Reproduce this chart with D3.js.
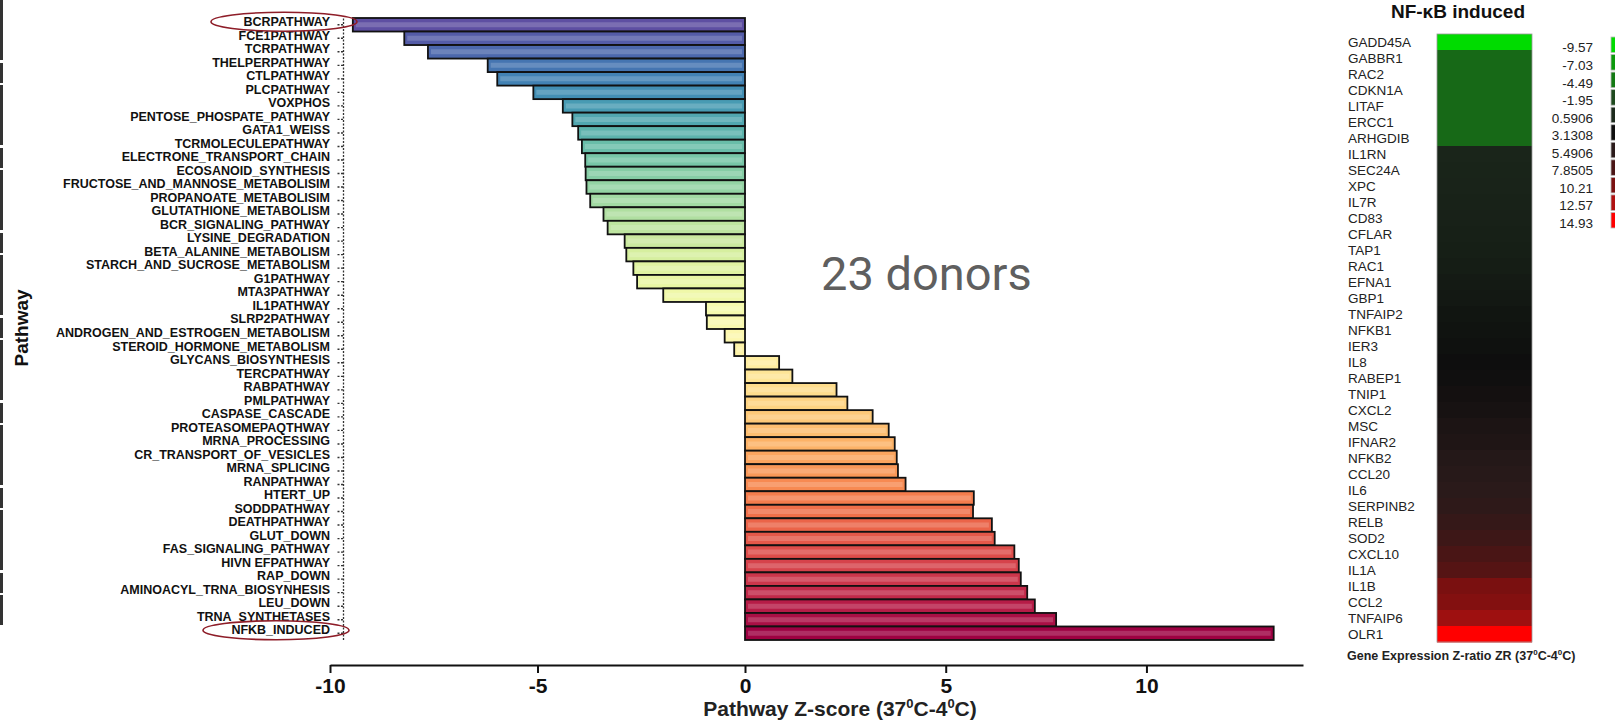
<!DOCTYPE html>
<html>
<head>
<meta charset="utf-8">
<script src="https://cdn.jsdelivr.net/npm/d3@7"></script>
<style>
  body { margin: 0; background: #fff; }
  svg { display: block; }
</style>
</head>
<body>
<div id="chart"></div>
<script>
// pathway bar chart data (top to bottom)
var pathways = [
  "BCRPATHWAY", "FCE1PATHWAY", "TCRPATHWAY", "THELPERPATHWAY", "CTLPATHWAY",
  "PLCPATHWAY", "VOXPHOS", "PENTOSE_PHOSPATE_PATHWAY", "GATA1_WEISS", "TCRMOLECULEPATHWAY",
  "ELECTRONE_TRANSPORT_CHAIN", "ECOSANOID_SYNTHESIS", "FRUCTOSE_AND_MANNOSE_METABOLISIM",
  "PROPANOATE_METABOLISIM", "GLUTATHIONE_METABOLISM", "BCR_SIGNALING_PATHWAY",
  "LYSINE_DEGRADATION", "BETA_ALANINE_METABOLISM", "STARCH_AND_SUCROSE_METABOLISM",
  "G1PATHWAY", "MTA3PATHWAY", "IL1PATHWAY", "SLRP2PATHWAY",
  "ANDROGEN_AND_ESTROGEN_METABOLISM", "STEROID_HORMONE_METABOLISM", "GLYCANS_BIOSYNTHESIS",
  "TERCPATHWAY", "RABPATHWAY", "PMLPATHWAY", "CASPASE_CASCADE", "PROTEASOMEPAQTHWAY",
  "MRNA_PROCESSING", "CR_TRANSPORT_OF_VESICLES", "MRNA_SPLICING", "RANPATHWAY",
  "HTERT_UP", "SODDPATHWAY", "DEATHPATHWAY", "GLUT_DOWN", "FAS_SIGNALING_PATHWAY",
  "HIVN EFPATHWAY", "RAP_DOWN", "AMINOACYL_TRNA_BIOSYNHESIS", "LEU_DOWN",
  "TRNA_SYNTHETASES", "NFKB_INDUCED"
];
var zScores = [
  -9.45, -8.21, -7.64, -6.20, -5.97,
  -5.10, -4.39, -4.16, -4.02, -3.93,
  -3.85, -3.84, -3.82,
  -3.73, -3.41, -3.31,
  -2.90, -2.86, -2.69,
  -2.60, -1.97, -0.94, -0.92,
  -0.49, -0.26, 0.85,
  1.18, 2.28, 2.55, 3.18, 3.58,
  3.73, 3.78, 3.81, 4.00,
  5.70, 5.68, 6.15, 6.22, 6.71,
  6.82, 6.87, 7.03, 7.22,
  7.75, 13.17
];
var xTicks = [-10, -5, 0, 5, 10];

// NF-kB induced heatmap data
var genes = [
  "GADD45A", "GABBR1", "RAC2", "CDKN1A", "LITAF", "ERCC1", "ARHGDIB", "IL1RN",
  "SEC24A", "XPC", "IL7R", "CD83", "CFLAR", "TAP1", "RAC1", "EFNA1", "GBP1",
  "TNFAIP2", "NFKB1", "IER3", "IL8", "RABEP1", "TNIP1", "CXCL2", "MSC", "IFNAR2",
  "NFKB2", "CCL20", "IL6", "SERPINB2", "RELB", "SOD2", "CXCL10", "IL1A", "IL1B",
  "CCL2", "TNFAIP6", "OLR1"
];
var geneZ = [
  -9.57, -3.6, -3.6, -3.6, -3.6, -3.6, -3.6, 1.0,
  1.1, 1.2, 1.3, 1.4, 1.5, 1.6, 1.8, 2.0, 2.2,
  2.5, 2.7, 2.9, 3.1, 3.3, 3.6, 3.9, 4.3, 4.6,
  5.0, 5.2, 5.5, 5.8, 6.3, 6.9, 7.8, 8.4, 10.2,
  10.6, 11.8, 14.93
];
var legendValues = [-9.57, -7.03, -4.49, -1.95, 0.5906, 3.1308, 5.4906, 7.8505, 10.21, 12.57, 14.93];
var legendColors = ["#00dc00", "#0c9a0c", "#137a13", "#1e4a1e", "#1c2a1c", "#0e0e0e",
                    "#2a1a1a", "#4a1515", "#7a1010", "#b01010", "#ff0000"];

var width = 1615, height = 720;

var svg = d3.select("#chart").append("svg")
  .attr("width", width)
  .attr("height", height);

/* scanned border on the left edge */
svg.append("line")
  .attr("x1", 1.5).attr("x2", 1.5)
  .attr("y1", 0).attr("y2", 625)
  .style("stroke", "#333")
  .style("stroke-width", 3)
  .style("stroke-dasharray", "60,3,20,2");

function drawBars() {
  // the scanned axis is a little wider on the negative side
  var x = d3.scaleLinear().domain([-10, 0, 13.9]).range([330, 745, 1303]);
  var y = d3.scaleBand().domain(pathways).range([18, 640]).padding(0);

  var color = function(i) { return d3.interpolateSpectral(1 - i / (pathways.length - 1)); };

  var g = svg.append("g");

  g.selectAll("rect.bar")
    .data(pathways)
    .enter().append("rect")
    .attr("class", "bar")
    .attr("x", function(d, i) { return x(Math.min(0, zScores[i])); })
    .attr("y", function(d) { return y(d); })
    .attr("width", function(d, i) { return Math.abs(x(zScores[i]) - x(0)); })
    .attr("height", y.bandwidth())
    .style("fill", function(d, i) { return color(i); })
    .style("stroke", "#111")
    .style("stroke-width", 1.8);

  // slight sheen inside each bar
  g.selectAll("line.sheen")
    .data(pathways)
    .enter().append("line")
    .attr("class", "sheen")
    .attr("x1", function(d, i) { return x(Math.min(0, zScores[i])) + 3; })
    .attr("x2", function(d, i) { return x(Math.max(0, zScores[i])) - 3; })
    .attr("y1", function(d) { return y(d) + y.bandwidth() / 2; })
    .attr("y2", function(d) { return y(d) + y.bandwidth() / 2; })
    .style("stroke", "#fff")
    .style("stroke-opacity", 0.18)
    .style("stroke-width", 5);

  // y axis: dotted line with dashed ticks
  var yAxis = g.append("g").attr("transform", "translate(343,0)")
    .call(d3.axisLeft(y).tickSize(7).tickPadding(6).tickSizeOuter(0));
  yAxis.select(".domain")
    .style("stroke", "#333")
    .style("stroke-width", 1.3)
    .style("stroke-dasharray", "2,1.5");
  yAxis.selectAll(".tick line")
    .style("stroke", "#333")
    .style("stroke-width", 1.4)
    .style("stroke-dasharray", "2,1.5");
  yAxis.selectAll(".tick text")
    .attr("dy", "0.1em")
    .style("font-family", "Arial, 'Liberation Sans', sans-serif")
    .style("font-weight", "bold")
    .style("font-size", "12.5px")
    .style("fill", "#111");

  // x axis
  var xAxis = g.append("g").attr("transform", "translate(0,665)")
    .call(d3.axisBottom(x).tickValues(xTicks).tickSize(8).tickPadding(5).tickSizeOuter(0)
      .tickFormat(function(d) { return String(d); }));
  xAxis.select(".domain").style("stroke", "#111").style("stroke-width", 2);
  xAxis.selectAll(".tick line").style("stroke", "#111").style("stroke-width", 2);
  xAxis.selectAll(".tick text")
    .style("font-family", "'Liberation Sans Narrow', 'Arial Narrow', Arial, sans-serif")
    .style("font-weight", "bold")
    .style("font-size", "21px")
    .style("fill", "#111");

  var xt = svg.append("text")
    .attr("x", 840).attr("y", 716)
    .attr("text-anchor", "middle")
    .style("font-family", "'Liberation Sans Narrow', 'Arial Narrow', Arial, sans-serif")
    .style("font-weight", "bold")
    .style("font-size", "21px")
    .style("fill", "#222");
  xt.append("tspan").text("Pathway Z-score (37");
  xt.append("tspan").attr("dy", -8).style("font-size", "13px").text("0");
  xt.append("tspan").attr("dy", 8).text("C-4");
  xt.append("tspan").attr("dy", -8).style("font-size", "13px").text("0");
  xt.append("tspan").attr("dy", 8).text("C)");

  svg.append("text")
    .attr("transform", "translate(28,328) rotate(-90)")
    .attr("text-anchor", "middle")
    .style("font-family", "Arial, 'Liberation Sans', sans-serif")
    .style("font-weight", "bold")
    .style("font-size", "19px")
    .style("fill", "#111")
    .text("Pathway");

  // red ellipses around the first and last pathway
  [pathways[0], pathways[pathways.length - 1]].forEach(function(p, k) {
    svg.append("ellipse")
      .attr("cx", k === 0 ? 284 : 276)
      .attr("cy", y(p) + y.bandwidth() / 2 - 3)
      .attr("rx", 73).attr("ry", 9.5)
      .style("fill", "none")
      .style("stroke", "#8e1d28")
      .style("stroke-width", 1.6);
  });

  svg.append("text")
    .attr("x", 821).attr("y", 290)
    .style("font-family", "Roboto, 'Open Sans', sans-serif")
    .style("font-size", "47px")
    .style("fill", "#5f5f5f")
    .text("23 donors");
}

function drawHeatmap() {
  var y = d3.scaleBand().domain(genes).range([34, 642]).padding(0);
  var color = d3.scaleLinear().domain(legendValues).range(legendColors);

  svg.append("text")
    .attr("x", 1458).attr("y", 18)
    .attr("text-anchor", "middle")
    .style("font-family", "Arial, 'Liberation Sans', sans-serif")
    .style("font-weight", "bold")
    .style("font-size", "19px")
    .style("fill", "#111")
    .text("NF-\u03BAB induced");

  svg.selectAll("rect.cell")
    .data(genes)
    .enter().append("rect")
    .attr("class", "cell")
    .attr("x", 1437)
    .attr("y", function(d) { return y(d); })
    .attr("width", 95)
    .attr("height", y.bandwidth() + 0.5)
    .style("fill", function(d, i) { return color(geneZ[i]); });

  svg.append("rect")
    .attr("x", 1437).attr("y", 34)
    .attr("width", 95).attr("height", 608)
    .style("fill", "none")
    .style("stroke", "#999")
    .style("stroke-width", 0.8);

  svg.selectAll("text.gene")
    .data(genes)
    .enter().append("text")
    .attr("class", "gene")
    .attr("x", 1348)
    .attr("y", function(d) { return y(d) + y.bandwidth() / 2; })
    .attr("dy", "0.36em")
    .style("font-family", "Arial, 'Liberation Sans', sans-serif")
    .style("font-size", "13.5px")
    .style("fill", "#222")
    .text(function(d) { return d; });

  // legend
  var ly = d3.scaleBand().domain(legendValues).range([36, 229]).padding(0);
  svg.selectAll("rect.swatch")
    .data(legendValues)
    .enter().append("rect")
    .attr("class", "swatch")
    .attr("x", 1611)
    .attr("y", function(d) { return ly(d) + 1; })
    .attr("width", 12)
    .attr("height", ly.bandwidth() - 2)
    .style("fill", function(d, i) { return legendColors[i]; })
    .style("stroke", "#bbb")
    .style("stroke-width", 0.8);

  svg.selectAll("text.legend")
    .data(legendValues)
    .enter().append("text")
    .attr("class", "legend")
    .attr("x", 1593)
    .attr("y", function(d) { return ly(d) + ly.bandwidth() / 2 + 3; })
    .attr("dy", "0.35em")
    .attr("text-anchor", "end")
    .style("font-family", "Arial, 'Liberation Sans', sans-serif")
    .style("font-size", "13.5px")
    .style("fill", "#222")
    .text(function(d) { return String(d); });

  var gt = svg.append("text")
    .attr("x", 1347).attr("y", 660)
    .style("font-family", "Arial, 'Liberation Sans', sans-serif")
    .style("font-weight", "bold")
    .style("font-size", "12.5px")
    .style("fill", "#222");
  gt.append("tspan").text("Gene Expression Z-ratio ZR (37");
  gt.append("tspan").attr("dy", -5).style("font-size", "8px").text("0");
  gt.append("tspan").attr("dy", 5).text("C-4");
  gt.append("tspan").attr("dy", -5).style("font-size", "8px").text("0");
  gt.append("tspan").attr("dy", 5).text("C)");
}

drawBars();
drawHeatmap();
</script>
</body>
</html>
